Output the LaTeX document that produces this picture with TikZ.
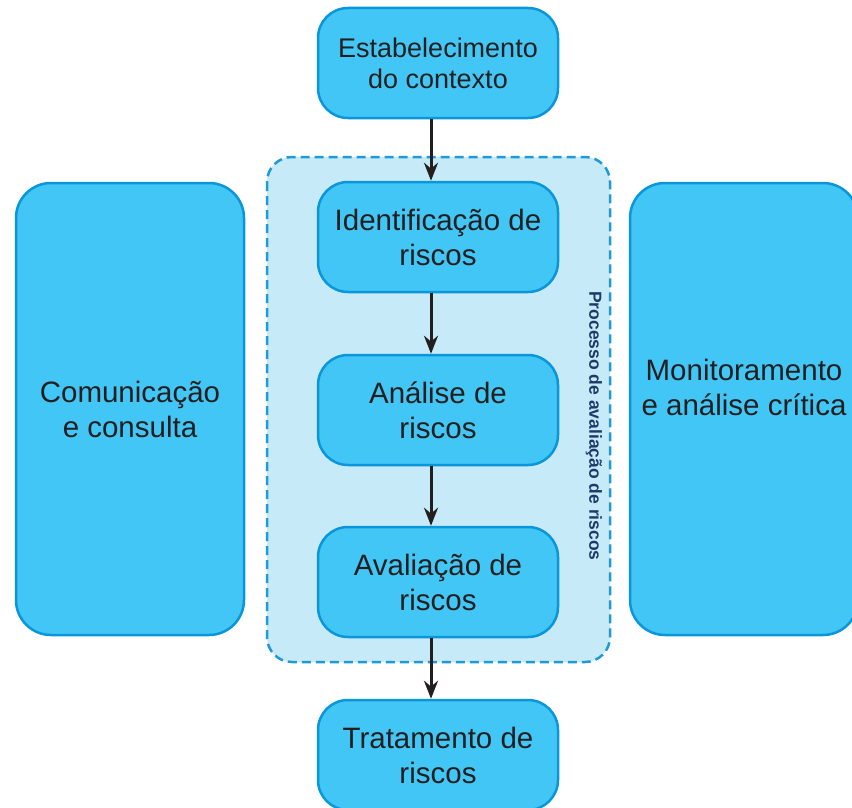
\documentclass[tikz,border=0pt]{standalone}
\usepackage{fontspec}
\setmainfont{Liberation Sans}
\usetikzlibrary{arrows.meta}

\definecolor{caixa}{HTML}{41C6F5}
\definecolor{borda}{HTML}{0A96DA}
\definecolor{fundo}{HTML}{C7EAF8}
\definecolor{tracejado}{HTML}{1D9BD9}
\definecolor{texto}{HTML}{231F20}
\definecolor{marinho}{HTML}{1F3A68}

\tikzset{
    etapa/.style={draw=borda, fill=caixa, line width=2.5pt, rounded corners=30pt,
        minimum width=240pt, minimum height=110pt, align=center, text=texto,
        font=\fontsize{29.5}{35}\selectfont},
    lateral/.style={etapa, minimum width=228pt, minimum height=452pt, rounded corners=35pt},
    rotulo/.style={align=center, text=texto, font=\fontsize{29.5}{35}\selectfont},
    seta/.style={-{Stealth[length=18pt,width=14pt]}, line width=3pt, draw=texto}
}

\begin{document}
\begin{tikzpicture}[x=1pt,y=-1pt]
    \useasboundingbox (0,0) rectangle (852,808);
    \clip (0,0) rectangle (852,808);
    % processo de avaliacao
    \draw[fill=fundo, draw=tracejado, line width=2.5pt, dash pattern=on 9pt off 5pt,
        rounded corners=25pt] (267,157) rectangle (610,662);
    \node[rotate=-90, text=marinho, font=\bfseries\fontsize{17.5}{17.5}\selectfont]
        (processo) at (594,426) {Processo de avaliação de riscos};

    \node[etapa, font=\fontsize{27}{31}\selectfont] (contexto) at (438,63) {Estabelecimento\\do contexto};
    \node[etapa] (identificacao) at (438,237) {Identificação de\\riscos};
    \node[etapa] (analise) at (438,410) {Análise de\\riscos};
    \node[etapa] (avaliacao) at (438,582) {Avaliação de\\riscos};
    \node[etapa] (tratamento) at (438,755) {Tratamento de\\riscos};

    \node[lateral] (comunicacao) at (130,409) {};
    \node[rotulo] at (comunicacao.center) {Comunicação\\e consulta};
    \node[lateral] (monitoramento) at (744,409) {};
    \node[rotulo] at ([yshift=22pt]monitoramento.center) {Monitoramento\\e análise crítica};

    \draw[seta] ([xshift=-7pt]contexto.south) -- ([xshift=-7pt]identificacao.north);
    \draw[seta] ([xshift=-7pt]identificacao.south) -- ([xshift=-7pt]analise.north);
    \draw[seta] ([xshift=-7pt]analise.south) -- ([xshift=-7pt]avaliacao.north);
    \draw[seta] ([xshift=-7pt]avaliacao.south) -- ([xshift=-7pt]tratamento.north);
\end{tikzpicture}
\end{document}
